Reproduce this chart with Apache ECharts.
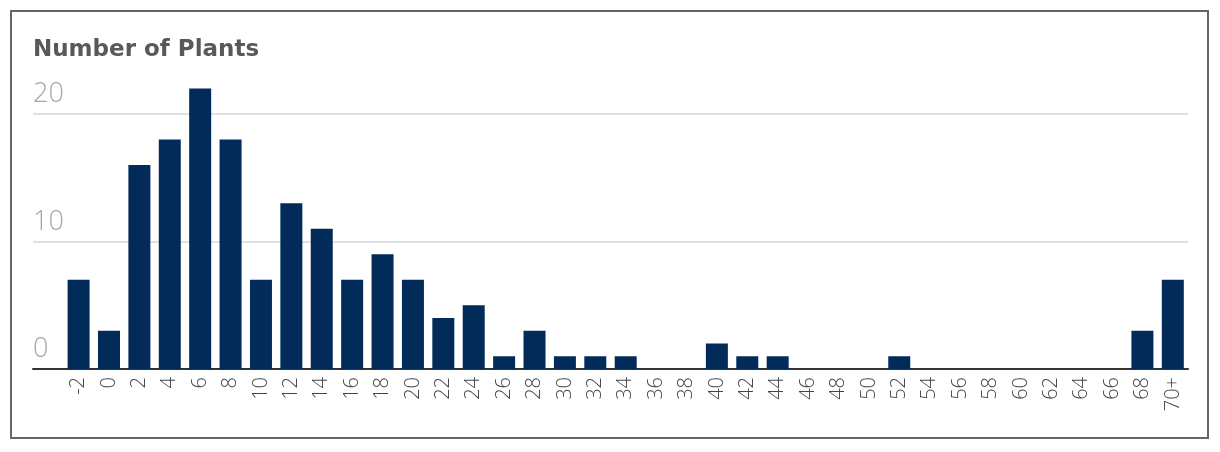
<!DOCTYPE html>
<html>
<head>
<meta charset="utf-8">
<script src="https://cdn.jsdelivr.net/npm/echarts@6/dist/echarts.min.js"></script>
<style>
  html, body { margin: 0; padding: 0; background: #fff; }
  #chart { width: 1220px; height: 452px; }
</style>
</head>
<body>
<div id="chart"></div>
<script>
const titleText = 'Number of Plants';
const categories = ['', '-2', '0', '2', '4', '6', '8', '10', '12', '14', '16', '18', '20', '22', '24', '26', '28', '30', '32', '34', '36', '38', '40', '42', '44', '46', '48', '50', '52', '54', '56', '58', '60', '62', '64', '66', '68', '70+'];
const plantCounts = [null, 7, 3, 16, 18, 22, 18, 7, 13, 11, 7, 9, 7, 4, 5, 1, 3, 1, 1, 1, 0, 0, 2, 1, 1, 0, 0, 0, 1, 0, 0, 0, 0, 0, 0, 0, 3, 7];
const yMin = 0;
const yMax = 22;
const yInterval = 10;

const chart = echarts.init(document.getElementById('chart'), null, { renderer: 'canvas' });
chart.setOption({
  animation: false,
  backgroundColor: '#ffffff',
  title: {
    text: titleText,
    left: 33,
    top: 39,
    padding: 0,
    textStyle: { fontFamily: 'DejaVu Sans', fontWeight: 'bold', fontSize: 23, color: '#595959' }
  },
  graphic: [{
    type: 'rect',
    shape: { x: 11, y: 11, width: 1197, height: 427 },
    style: { fill: 'none', stroke: '#666666', lineWidth: 2 },
    silent: true
  }],
  grid: { left: 33, right: 32, top: 88.5, bottom: 83, containLabel: false },
  xAxis: {
    type: 'category',
    data: categories,
    boundaryGap: true,
    axisLine: { show: true, lineStyle: { color: '#333333', width: 2 } },
    axisTick: { show: false },
    axisLabel: {
      interval: 0,
      rotate: 90,
      margin: 8,
      fontFamily: 'Open Sans',
      fontWeight: 300,
      fontSize: 20,
      color: '#444444'
    }
  },
  yAxis: {
    type: 'value',
    min: yMin,
    max: yMax,
    interval: yInterval,
    axisLine: { show: false },
    axisTick: { show: false },
    splitLine: { show: true, showMaxLine: false, showMinLine: false, lineStyle: { color: '#d6d6d6', width: 1.5 } },
    axisLabel: {
      inside: true,
      margin: 0,
      align: 'left',
      verticalAlign: 'bottom',
      padding: [0, 0, 6, 0],
      showMaxLabel: false,
      fontFamily: 'Open Sans',
      fontWeight: 300,
      fontSize: 27,
      color: '#a6a6a6'
    }
  },
  series: [{
    type: 'bar',
    data: plantCounts,
    barWidth: 22,
    itemStyle: { color: '#032b5a' },
    z: 3
  }]
});
</script>
</body>
</html>
